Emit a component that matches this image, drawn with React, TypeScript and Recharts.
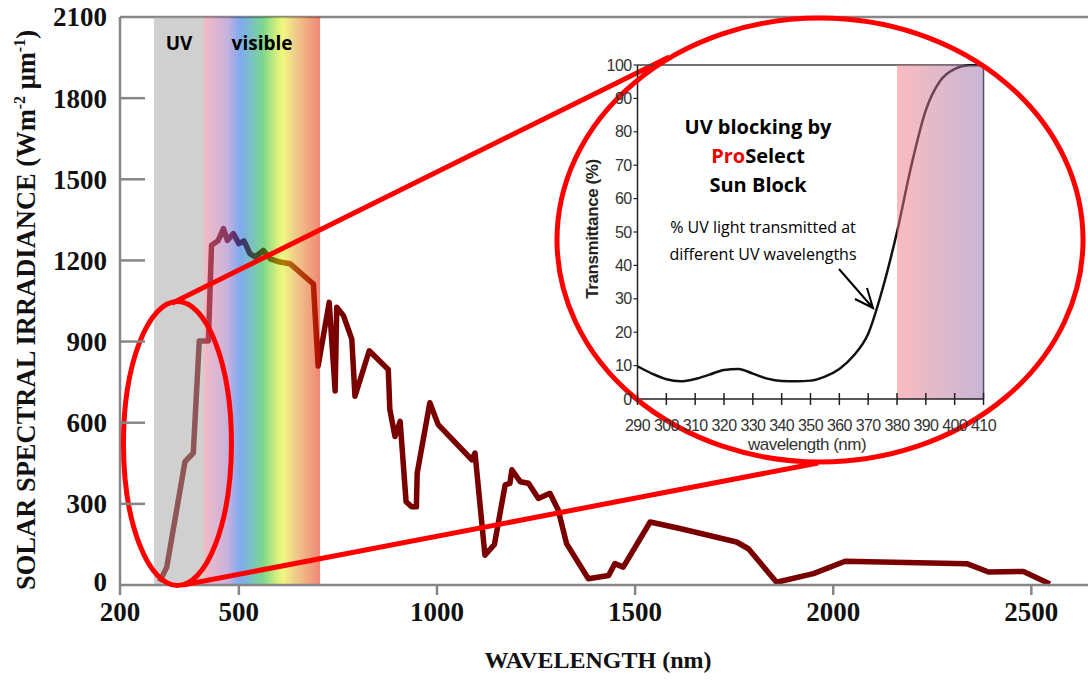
import React from "react";
import {
  LineChart,
  Line,
  XAxis,
  YAxis,
  ReferenceArea,
  ReferenceLine,
  ReferenceDot,
  Label,
} from "recharts";

// main spectrum (nm, W m-2 um-1)
const wavelengths = [
  300, 318, 364, 385, 400, 423, 431, 448, 461, 471, 486, 500, 513, 528, 541, 562,
  579, 604, 629, 688, 700, 728, 743, 747, 764, 785, 793, 829, 877, 881, 894, 907,
  922, 936, 948, 950, 982, 1003, 1088, 1096, 1121, 1145, 1172, 1184, 1189, 1210,
  1231, 1256, 1285, 1306, 1327, 1382, 1433, 1449, 1470, 1538, 1613, 1756, 1786,
  1857, 1950, 2030, 2337, 2392, 2480, 2547,
];
const irradiance = [
  12, 66, 456, 488, 902, 902, 1256, 1274, 1318, 1274, 1299, 1262, 1272, 1225, 1213,
  1237, 1206, 1194, 1188, 1113, 810, 1045, 717, 1027, 996, 909, 698, 866, 797, 649,
  549, 605, 308, 289, 289, 413, 674, 593, 463, 488, 110, 150, 370, 376, 426, 382,
  376, 320, 339, 277, 153, 23, 35, 79, 66, 233, 209, 159, 134, 10, 42, 88, 79, 48,
  50, 4,
];
const xTicks = [200, 500, 1000, 1500, 2000, 2500];
const yTicks = [0, 300, 600, 900, 1200, 1500, 1800, 2100];

// inset: sun block transmittance
const insetWavelengths = [
  290, 295, 300, 305, 310, 315, 320, 325, 330, 335, 340, 345, 350, 355, 360, 365,
  370, 375, 380, 385, 390, 395, 400, 405, 410,
];
const transmittance = [
  9.8, 7.6, 5.9, 5.3, 6.0, 7.3, 8.7, 9.0, 7.6, 6.1, 5.4, 5.3, 5.5, 6.7, 9.0, 13.0,
  19.5, 33, 50, 70, 86.5, 95.3, 98.8, 99.9, 100,
];
const insetXTicks = [290, 300, 310, 320, 330, 340, 350, 360, 370, 380, 390, 400, 410];
const insetYTicks = [0, 10, 20, 30, 40, 50, 60, 70, 80, 90, 100];

const spectrum = wavelengths.map((w, i) => ({ w, v: irradiance[i] }));
const insetData = insetWavelengths.map((w, i) => ({ w, t: transmittance[i] }));

const AXIS = "#868686";
const RED = "#ff0000";
const SERIF = "'Liberation Serif', 'Times New Roman', serif";
const SANS = "'Open Sans', sans-serif";
const NARROW = "'Liberation Sans Narrow', 'Liberation Sans', Arial, sans-serif";

const MainYTick = (props: any) => {
  const { x, y, payload } = props;
  const axisX = x + 13;
  const v = payload.value;
  return (
    <g>
      {v > 0 && v < 2100 && (
        <line x1={axisX} x2={axisX + 25} y1={y} y2={y} stroke={AXIS} strokeWidth={2.5} />
      )}
      <text
        x={x}
        y={v === 0 ? y - 3 : y}
        dy="0.35em"
        textAnchor="end"
        fontFamily={SERIF}
        fontWeight={700}
        fontSize={27}
        fill="#111"
      >
        {v}
      </text>
    </g>
  );
};

const InsetXTick = (props: any) => {
  const { x, y, payload } = props;
  const axisY = y - 20;
  return (
    <g>
      <line x1={x} x2={x} y1={axisY - 6} y2={axisY + 6} stroke="#222" strokeWidth={1.5} />
      <text
        x={x}
        y={axisY + 32}
        textAnchor="middle"
        fontFamily={NARROW}
        fontSize={16}
        letterSpacing={-0.6}
        fill="#333"
      >
        {payload.value}
      </text>
    </g>
  );
};

const App = () => {
  return (
    <div style={{ position: "absolute", left: 0, top: 0, width: 1088, height: 686, background: "#fff" }}>
      <div style={{ position: "absolute", left: 0, top: 0 }}>
        <LineChart width={1088} height={686} data={spectrum} margin={{ top: 17, right: 0, left: 0, bottom: 0 }}>
          <defs>
            <linearGradient id="rainbow" x1="0" y1="0" x2="1" y2="0">
              <stop offset="0" stopColor="#e87a8e" />
              <stop offset="0.2" stopColor="#956bbc" />
              <stop offset="0.31" stopColor="#0b5ce2" />
              <stop offset="0.42" stopColor="#008c82" />
              <stop offset="0.51" stopColor="#05b222" />
              <stop offset="0.63" stopColor="#b2e205" />
              <stop offset="0.68" stopColor="#e2f10b" />
              <stop offset="0.77" stopColor="#e2a822" />
              <stop offset="0.89" stopColor="#e25c0b" />
              <stop offset="1" stopColor="#e21800" />
            </linearGradient>
          </defs>
          <XAxis
            dataKey="w"
            type="number"
            domain={[200, 2643]}
            ticks={xTicks}
            interval={0}
            height={101}
            stroke={AXIS}
            strokeWidth={2.5}
            tickSize={10}
            tickMargin={7}
            tickLine={{ stroke: AXIS, strokeWidth: 2.5 }}
            tick={{ fill: "#111", fontFamily: SERIF, fontWeight: 700, fontSize: 27 }}
          >
            <Label
              content={() => (
                <text
                  x={598}
                  y={660}
                  dy="0.35em"
                  textAnchor="middle"
                  fontFamily={SERIF}
                  fontWeight={700}
                  fontSize={24}
                  fill="#111"
                >
                  WAVELENGTH (nm)
                </text>
              )}
            />
          </XAxis>
          <YAxis
            type="number"
            domain={[0, 2100]}
            ticks={yTicks}
            interval={0}
            width={120}
            stroke={AXIS}
            strokeWidth={2.5}
            tickSize={0}
            tickMargin={13}
            tickLine={false}
            tick={<MainYTick />}
          >
            <Label
              content={() => (
                <text
                  transform="translate(26,310) rotate(-90)"
                  dy="0.35em"
                  textAnchor="middle"
                  fontFamily={SERIF}
                  fontWeight={700}
                  fontSize={26.5}
                  fill="#111"
                >
                  SOLAR SPECTRAL IRRADIANCE (Wm
                  <tspan dy={-10} fontSize={16}>-2</tspan>
                  <tspan dy={10}> μm</tspan>
                  <tspan dy={-10} fontSize={16}>-1</tspan>
                  <tspan dy={10}>)</tspan>
                </text>
              )}
            />
          </YAxis>
          <ReferenceLine y={2100} stroke={AXIS} strokeWidth={2.5} />
          <Line
            dataKey="v"
            type="linear"
            stroke="#7a0000"
            strokeWidth={5.5}
            strokeLinejoin="round"
            dot={false}
            activeDot={false}
            isAnimationActive={false}
          />
          <ReferenceArea
            x1={286}
            x2={412}
            y1={0}
            y2={2100}
            fill="#a4a4a4"
            fillOpacity={0.52}
            stroke="none"
            zIndex={450}
            label={{
              value: "UV",
              position: "insideTop",
              offset: 20,
              fill: "#000",
              fontSize: 19,
              fontWeight: 700,
              fontFamily: SANS,
            }}
          />
          <ReferenceArea
            x1={412}
            x2={705}
            y1={0}
            y2={2100}
            fill="url(#rainbow)"
            fillOpacity={0.52}
            stroke="none"
            zIndex={450}
            label={{
              value: "visible",
              position: "insideTop",
              offset: 20,
              fill: "#000",
              fontSize: 19,
              fontWeight: 700,
              fontFamily: SANS,
            }}
          />
          <ReferenceDot
            x={345}
            y={523}
            ifOverflow="visible"
            zIndex={700}
            shape={(p: any) => (
              <ellipse cx={p.cx} cy={p.cy} rx={54} ry={142} fill="none" stroke={RED} strokeWidth={5} />
            )}
          />
          <ReferenceLine
            segment={[{ x: 331, y: 1042 }, { x: 1586, y: 1952 }]}
            stroke={RED}
            strokeWidth={5}
            ifOverflow="visible"
            zIndex={700}
          />
          <ReferenceLine
            segment={[{ x: 359, y: 0 }, { x: 1962, y: 451 }]}
            stroke={RED}
            strokeWidth={5}
            ifOverflow="visible"
            zIndex={700}
          />
        </LineChart>
      </div>

      <div style={{ position: "absolute", left: 550, top: 12 }}>
        <LineChart width={538} height={458} data={insetData} margin={{ top: 53, right: 104.5, left: 0, bottom: 0 }}>
          <defs>
            <linearGradient id="insetBand" x1="0" y1="0" x2="1" y2="0">
              <stop offset="0" stopColor="#f37981" />
              <stop offset="1" stopColor="#916dad" />
            </linearGradient>
          </defs>
          <XAxis
            dataKey="w"
            type="number"
            domain={[290, 410]}
            ticks={insetXTicks}
            interval={0}
            height={71}
            stroke="#222"
            strokeWidth={1.5}
            tickSize={6}
            tickMargin={14}
            tickLine={false}
            tick={<InsetXTick />}
          />
          <YAxis
            type="number"
            domain={[0, 100]}
            ticks={insetYTicks}
            interval={0}
            width={87.5}
            stroke="#222"
            strokeWidth={1.5}
            tickSize={4}
            tickMargin={2}
            tickLine={{ stroke: "#222", strokeWidth: 1.2 }}
            tick={{ fill: "#333", fontFamily: NARROW, fontSize: 16, letterSpacing: -0.6 }}
          />
          <ReferenceLine y={100} stroke="#444" strokeWidth={1.5} />
          <ReferenceLine x={410} stroke="#444" strokeWidth={1.5} />
          <Line
            dataKey="t"
            type="monotone"
            stroke="#111"
            strokeWidth={2.5}
            dot={false}
            activeDot={false}
            isAnimationActive={false}
          />
          <ReferenceArea
            x1={380}
            x2={410}
            y1={0}
            y2={100}
            fill="url(#insetBand)"
            fillOpacity={0.5}
            stroke="none"
            zIndex={450}
          />
          <g>
            <text x={208} y={122} textAnchor="middle" fontFamily={SANS} fontWeight={700} fontSize={20} fill="#000">
              UV blocking by
            </text>
            <text x={208} y={151} textAnchor="middle" fontFamily={SANS} fontWeight={700} fontSize={20} fill="#000">
              <tspan fill="#ee0000">Pro</tspan>Select
            </text>
            <text x={208} y={180} textAnchor="middle" fontFamily={SANS} fontWeight={700} fontSize={20} fill="#000">
              Sun Block
            </text>
            <text x={213} y={221} textAnchor="middle" fontFamily={SANS} fontSize={16} fill="#000">
              % UV light transmitted at
            </text>
            <text x={213} y={248} textAnchor="middle" fontFamily={SANS} fontSize={16} fill="#000">
              different UV wavelengths
            </text>
            <path d="M289,257 L323,296 M317,276 L323,296 L305,287" stroke="#000" strokeWidth={2} fill="none" />
            <text
              transform="translate(42,217) rotate(-90)"
              dy="0.35em"
              textAnchor="middle"
              fontFamily={NARROW}
              fontWeight={700}
              fontSize={17}
              letterSpacing={-0.4}
              fill="#222"
            >
              Transmittance (%)
            </text>
            <text
              x={257}
              y={438}
              textAnchor="middle"
              fontFamily={NARROW}
              fontSize={17}
              letterSpacing={-0.5}
              fill="#333"
            >
              wavelength (nm)
            </text>
          </g>
          <ReferenceDot
            x={353.3}
            y={47.6}
            ifOverflow="visible"
            zIndex={700}
            shape={(p: any) => (
              <ellipse cx={p.cx} cy={p.cy} rx={263} ry={222} fill="none" stroke={RED} strokeWidth={5} />
            )}
          />
        </LineChart>
      </div>
    </div>
  );
};

export default App;
